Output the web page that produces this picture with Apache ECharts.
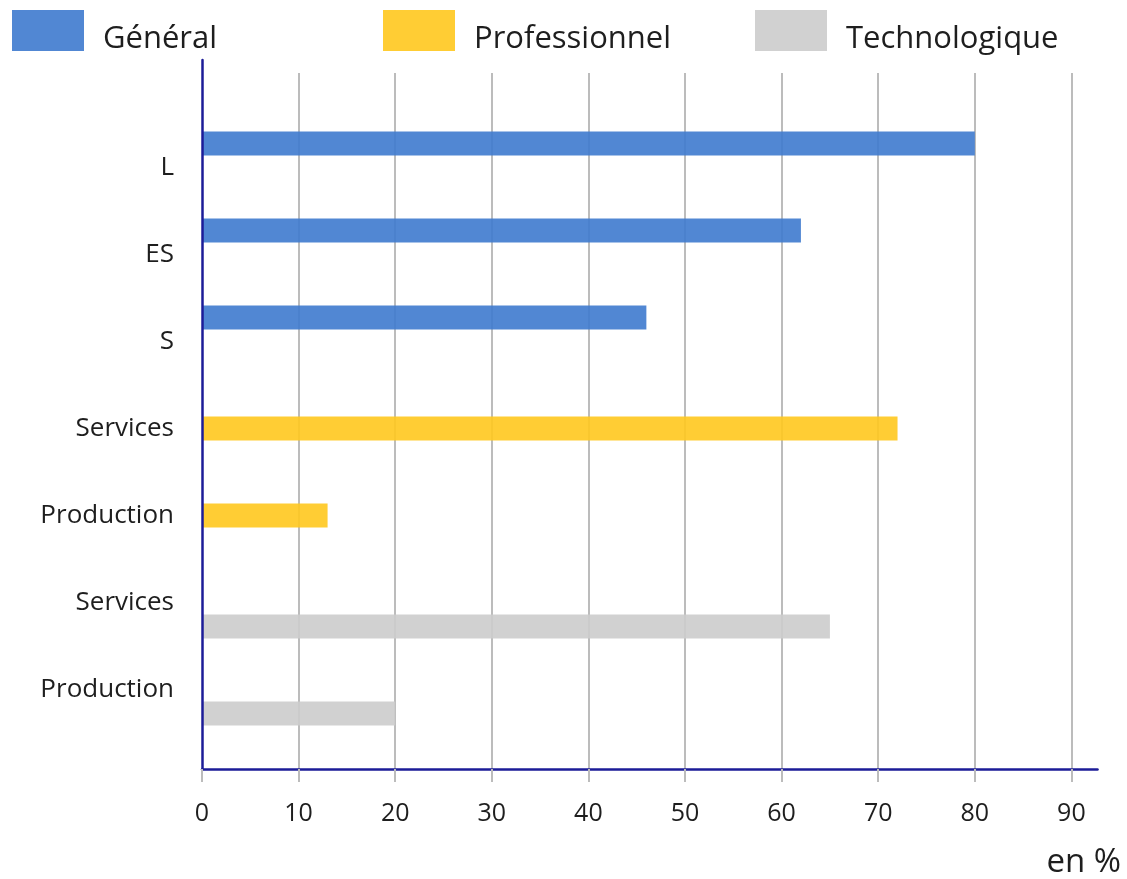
<!DOCTYPE html>
<html>
<head>
<meta charset="utf-8">
<script src="https://cdn.jsdelivr.net/npm/echarts@6/dist/echarts.min.js"></script>
<style>html,body{margin:0;padding:0;background:#fff}#c{width:1127px;height:879px}</style>
</head>
<body>
<div id="c"></div>
<script>
const categories = ['L', 'ES', 'S', 'Services', 'Production', 'Services', 'Production'];
const seriesNames = ['Général', 'Professionnel', 'Technologique'];
const general = [80, 62, 46, null, null, null, null];
const professionnel = [null, null, null, 72, 13, null, null];
const technologique = [null, null, null, null, null, 65, 20];
const tickValues = [0, 10, 20, 30, 40, 50, 60, 70, 80, 90];
const xMax = 92.7;

const colors = ['rgba(62,122,206,0.9)', 'rgba(255,200,30,0.9)', 'rgba(204,204,204,0.9)'];
const font = 'Open Sans';
const navy = '#1c1c98';
const gridGray = '#bcbcbc';

const chart = echarts.init(document.getElementById('c'));
const legendLefts = [12, 383, 755];
const legend = seriesNames.map((n, i) => ({
  data: [n], left: legendLefts[i], top: 10, padding: 0,
  itemWidth: 72, itemHeight: 41, icon: 'rect', selectedMode: false,
  formatter: '{t|{name}}',
  textStyle: {
    fontFamily: font, fontSize: 31, color: '#1e1e1e',
    rich: { t: { fontFamily: font, fontSize: 31, color: '#1e1e1e', lineHeight: 49, verticalAlign: 'bottom', padding: [0, 0, 0, 14] } }
  }
}));

chart.setOption({
  animation: false,
  color: colors,
  legend: legend,
  title: { text: 'en %', right: 1, top: 841, textStyle: { fontFamily: font, fontSize: 33, fontWeight: 'normal', color: '#1e1e1e' } },
  grid: [
    { left: 202, right: 29.5, top: 73, bottom: 110 },
    { left: 202, right: 29.5, top: 60, bottom: 110 },
    { left: 202, right: 29.5, top: 124, bottom: 146 }
  ],
  xAxis: [
    { gridIndex: 0, type: 'value', min: 0, max: xMax, interval: 10,
      axisLine: { show: false }, axisTick: { show: false }, axisLabel: { show: false },
      splitLine: { show: true, showMinLine: false, showMaxLine: false, lineStyle: { color: gridGray, width: 2 } } },
    { gridIndex: 1, type: 'value', min: 0, max: xMax, interval: 10, z: 3,
      axisLine: { show: true, lineStyle: { color: navy, width: 2.5 } },
      axisTick: { show: true, customValues: tickValues, length: 13, lineStyle: { color: gridGray, width: 2 } },
      axisLabel: { show: true, customValues: tickValues, margin: 32, fontFamily: font, fontSize: 25, color: '#1e1e1e' },
      splitLine: { show: false } },
    { gridIndex: 2, type: 'value', min: 0, max: xMax, show: false }
  ],
  yAxis: [
    { gridIndex: 0, type: 'value', show: false },
    { gridIndex: 1, type: 'value', z: 3,
      axisLine: { show: true, lineStyle: { color: navy, width: 2.5 } },
      axisTick: { show: false }, axisLabel: { show: false }, splitLine: { show: false } },
    { gridIndex: 2, type: 'category', inverse: true, data: categories,
      axisLine: { show: false }, axisTick: { show: false },
      axisLabel: { margin: 28, fontFamily: font, fontSize: 26, color: '#1e1e1e', padding: [3, 0, 0, 0] } }
  ],
  series: [
    { name: seriesNames[0], type: 'bar', xAxisIndex: 2, yAxisIndex: 2, data: general, barWidth: 24, barGap: '0%' },
    { name: seriesNames[1], type: 'bar', xAxisIndex: 2, yAxisIndex: 2, data: professionnel, barWidth: 24, barGap: '0%' },
    { name: seriesNames[2], type: 'bar', xAxisIndex: 2, yAxisIndex: 2, data: technologique, barWidth: 24, barGap: '0%' }
  ]
});
</script>
</body>
</html>
